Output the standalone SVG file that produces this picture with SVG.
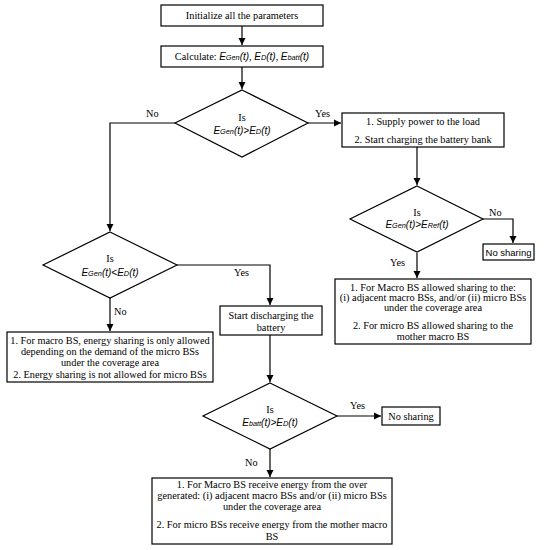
<svg xmlns="http://www.w3.org/2000/svg" width="546" height="550" viewBox="0 0 546 550">
<defs>
<marker id="ah" markerWidth="8" markerHeight="8" refX="7" refY="4" orient="auto" markerUnits="userSpaceOnUse">
<path d="M0,0.5 L7,4 L0,7.5 Z" fill="#000"/>
</marker>
<style>
.box{fill:#fff;stroke:#000;stroke-width:1.2}
.t{font-family:"Liberation Serif","Times New Roman",serif;font-size:10.3px;fill:#000;text-anchor:middle}
.l{font-family:"Liberation Serif","Times New Roman",serif;font-size:10.3px;fill:#000}
.f{font-family:"Liberation Sans",Arial,sans-serif;font-size:10px;font-style:italic;fill:#000}
.s{font-size:7.3px}
.ns{font-family:"Liberation Sans",Arial,sans-serif;font-size:9.5px;fill:#000;text-anchor:middle}
.c{fill:none;stroke:#000;stroke-width:1.2}
</style>
</defs>
<rect width="546" height="550" fill="#fff"/>
<g id="connectors">
<path class="c" d="M242,26 V45" marker-end="url(#ah)"/>
<path class="c" d="M242,67 V89" marker-end="url(#ah)"/>
<path class="c" d="M308,123 H341" marker-end="url(#ah)"/>
<path class="c" d="M417,147 V185" marker-end="url(#ah)"/>
<path class="c" d="M483,219 H513 V243" marker-end="url(#ah)"/>
<path class="c" d="M417,253 V278" marker-end="url(#ah)"/>
<path class="c" d="M175,123 H110 V231" marker-end="url(#ah)"/>
<path class="c" d="M177,265 H270 V305" marker-end="url(#ah)"/>
<path class="c" d="M110,298 V331" marker-end="url(#ah)"/>
<path class="c" d="M270,335 V382" marker-end="url(#ah)"/>
<path class="c" d="M337,416 H381" marker-end="url(#ah)"/>
<path class="c" d="M270,449 V477" marker-end="url(#ah)"/>
<text class="l" x="315" y="117">Yes</text>
<text class="l" x="146" y="117">No</text>
<text class="l" x="489" y="216">No</text>
<text class="l" x="390" y="266">Yes</text>
<text class="l" x="234" y="276">Yes</text>
<text class="l" x="114" y="315">No</text>
<text class="l" x="350" y="409">Yes</text>
<text class="l" x="245" y="466">No</text>
</g>
<g id="init">
<rect class="box" x="161" y="5" width="162" height="21"/>
<text class="t" x="242" y="19">Initialize all the parameters</text>
</g>
<g id="calc">
<rect class="box" x="161" y="46" width="162" height="21"/>
<text class="t" x="242" y="60">Calculate: <tspan class="f">E<tspan class="s">Gen</tspan>(t)</tspan>, <tspan class="f">E<tspan class="s">D</tspan>(t)</tspan>, <tspan class="f">E<tspan class="s">batt</tspan>(t)</tspan></text>
</g>
<g id="dec1">
<polygon class="box" points="242,90 308,123 242,157 175,123"/>
<text class="t" x="242" y="121">Is</text>
<text class="f" x="242" y="134" text-anchor="middle">E<tspan class="s">Gen</tspan>(t)&gt;E<tspan class="s">D</tspan>(t)</text>
</g>
<g id="supply">
<rect class="box" x="342" y="113" width="162" height="34"/>
<text class="t" x="423" y="124.5">1. Supply power to the load</text>
<text class="t" x="423" y="143">2. Start charging the battery bank</text>
</g>
<g id="dec2">
<polygon class="box" points="417,186 483,219 417,252 350,219"/>
<text class="t" x="417" y="216">Is</text>
<text class="f" x="417" y="228" text-anchor="middle">E<tspan class="s">Gen</tspan>(t)&gt;E<tspan class="s">Ref</tspan>(t)</text>
</g>
<g id="nosharing1">
<rect class="box" x="483" y="244" width="51" height="16"/>
<text class="ns" x="508.5" y="255.5">No sharing</text>
</g>
<g id="allowed">
<rect class="box" x="335" y="279" width="196" height="65"/>
<text class="t" x="433" y="290.5">1.  For Macro BS allowed sharing to the:</text>
<text class="t" x="433" y="300.5">(i) adjacent macro BSs, and/or (ii) micro BSs</text>
<text class="t" x="433" y="310.5">under the coverage area</text>
<text class="t" x="433" y="328.5">2. For micro BS allowed sharing to the</text>
<text class="t" x="433" y="340">mother macro BS</text>
</g>
<g id="dec3">
<polygon class="box" points="110,232 177,265 110,298 43,265"/>
<text class="t" x="110" y="262">Is</text>
<text class="f" x="110" y="276" text-anchor="middle">E<tspan class="s">Gen</tspan>(t)&lt;E<tspan class="s">D</tspan>(t)</text>
</g>
<g id="macroonly">
<rect class="box" x="7" y="332" width="206" height="50"/>
<text class="t" x="110" y="343.5">1. For macro BS, energy sharing is only allowed</text>
<text class="t" x="110" y="354.5">depending on the demand of the  micro BSs</text>
<text class="t" x="110" y="365.5">under the coverage area</text>
<text class="t" x="110" y="377.5">2. Energy sharing is not allowed for micro BSs</text>
</g>
<g id="discharge">
<rect class="box" x="220" y="306" width="102" height="29"/>
<text class="t" x="271" y="318.5">Start discharging the</text>
<text class="t" x="271" y="330.5">battery</text>
</g>
<g id="dec4">
<polygon class="box" points="270,383 337,416 270,449 203,416"/>
<text class="t" x="270" y="413">Is</text>
<text class="f" x="270" y="426" text-anchor="middle">E<tspan class="s">batt</tspan>(t)&gt;E<tspan class="s">D</tspan>(t)</text>
</g>
<g id="nosharing2">
<rect class="box" x="382" y="407" width="58" height="18"/>
<text class="t" x="411" y="419.5">No sharing</text>
</g>
<g id="receive">
<rect class="box" x="152" y="478" width="240" height="66"/>
<text class="t" x="272" y="487.5">1. For Macro BS receive energy from the over</text>
<text class="t" x="272" y="498.5">generated: (i) adjacent macro BSs and/or (ii) micro BSs</text>
<text class="t" x="272" y="510">under the coverage area</text>
<text class="t" x="272" y="528">2. For micro BSs receive energy from the mother macro</text>
<text class="t" x="272" y="539.5">BS</text>
</g>
</svg>
